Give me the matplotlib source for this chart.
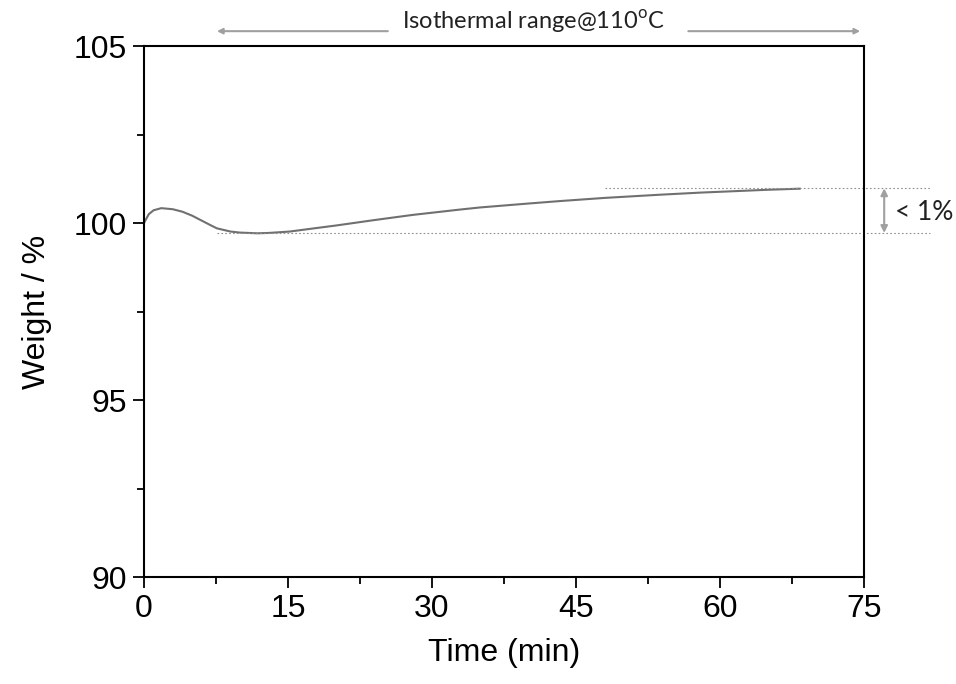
import matplotlib
matplotlib.use("Agg")
import matplotlib.pyplot as plt
from matplotlib.ticker import MultipleLocator

# TGA curve, isothermal hold at 110 C
time_min = [0, 0.5, 1, 1.8, 3, 4, 5, 6, 7, 7.6, 9, 10, 11.8, 13, 15.2, 18, 20,
            23.9, 28, 32.9, 35, 40, 43.3, 48, 53.75, 58, 62.4, 65, 68.3]
weight = [100.0, 100.25, 100.36, 100.42, 100.39, 100.32, 100.21, 100.07, 99.93,
          99.85, 99.76, 99.73, 99.71, 99.72, 99.76, 99.86, 99.93, 100.08,
          100.23, 100.38, 100.44, 100.55, 100.62, 100.71, 100.80, 100.86,
          100.91, 100.94, 100.97]

w_max = 100.98
w_min = 99.72

plt.rcParams['mathtext.fontset'] = 'custom'
plt.rcParams['mathtext.rm'] = 'Lato'

fig = plt.figure(figsize=(9.56, 6.84), dpi=100)
ax = fig.add_axes([0.1506, 0.1564, 0.7532, 0.7763])

ax.plot(time_min, weight, color='#707070', lw=1.5)

# Dotted guide lines for the max and min weight
ax.plot([48.0, 81.9], [w_max, w_max], ls=(0, (1.5, 2)), color='#909090', lw=0.8,
        clip_on=False)
ax.plot([7.6, 81.9], [w_min, w_min], ls=(0, (1.5, 2)), color='#909090', lw=0.8,
        clip_on=False)

# "< 1%" double arrow
ax.annotate('', xy=(77.1, w_max), xytext=(77.1, w_min),
            arrowprops=dict(arrowstyle='<|-|>', color='#a0a0a0', lw=1.5,
                            mutation_scale=10, shrinkA=0, shrinkB=0),
            annotation_clip=False)
ax.text(78.2, 100.3, '< 1%', family='Lato', fontsize=19, va='center',
        ha='left', color='#222222', clip_on=False)

# Isothermal range arrows on top
ax.annotate('', xy=(7.6, 105.42), xytext=(25.4, 105.42),
            arrowprops=dict(arrowstyle='-|>', color='#a0a0a0', lw=1.5,
                            mutation_scale=8, shrinkA=0, shrinkB=0),
            annotation_clip=False)
ax.annotate('', xy=(74.6, 105.42), xytext=(56.7, 105.42),
            arrowprops=dict(arrowstyle='-|>', color='#a0a0a0', lw=1.5,
                            mutation_scale=8, shrinkA=0, shrinkB=0),
            annotation_clip=False)
ax.text(40.6, 105.66, r'Isothermal range@110$^{\mathrm{o}}$C', family='Lato',
        fontsize=17, ha='center', va='center', color='#222222', clip_on=False)

ax.set_xlim(0, 75)
ax.set_ylim(90, 105)
ax.xaxis.set_major_locator(MultipleLocator(15))
ax.xaxis.set_minor_locator(MultipleLocator(7.5))
ax.yaxis.set_major_locator(MultipleLocator(5))
ax.yaxis.set_minor_locator(MultipleLocator(2.5))
ax.tick_params(which='major', direction='out', length=8, width=1.3,
               labelsize=23, pad=4)
ax.tick_params(which='minor', direction='out', length=5, width=1.3)
for lab in ax.get_xticklabels() + ax.get_yticklabels():
    lab.set_family('Liberation Sans')
for sp in ax.spines.values():
    sp.set_linewidth(1.5)

ax.set_xlabel('Time (min)', family='Liberation Sans', fontsize=23, labelpad=10)
ax.set_ylabel('Weight / %', family='Liberation Sans', fontsize=23, labelpad=16)

fig.savefig('out.png', dpi=100)
